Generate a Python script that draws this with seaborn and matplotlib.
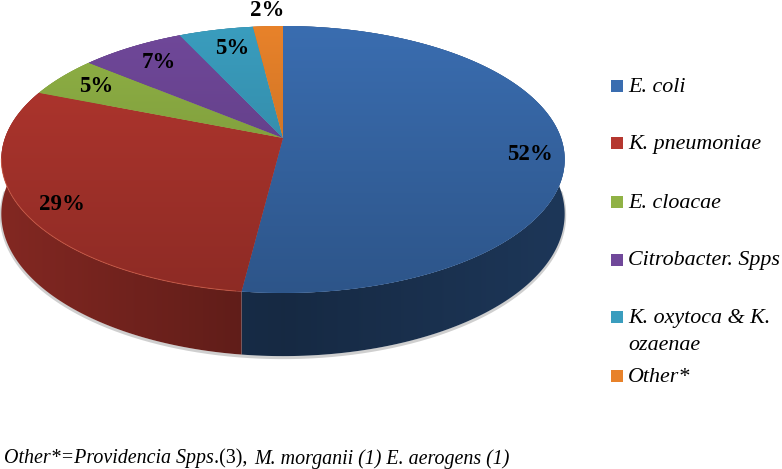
import numpy as np
import matplotlib
matplotlib.use("Agg")
import matplotlib.pyplot as plt
import seaborn as sns
from matplotlib.colors import LinearSegmentedColormap
from matplotlib.patches import Polygon

# values
species = ["E. coli", "K. pneumoniae", "E. cloacae", "Citrobacter. Spps", "K. oxytoca & K.\nozaenae", "Other*"]
percent = [52, 29, 5, 7, 5, 2]
hex_colors = ["#3A6DB0", "#B5372F", "#90B245", "#70489A", "#3A9DBE", "#E8822A"]

# layout, in pixels of the 782x469 picture
apex_x, apex_y = 283, 138
rad_x, rad_y = 278, 130
persp = 0.161
depth = 53
pct_xy = [(530, 155), (62, 204), (96, 87), (159, 62), (232, 48), (267, 10)]
legend_y = [87, 144, 203, 261, 318, 377]
wall_front = [0.38, 0.50, 0.5, 0.5, 0.5, 0.5]
wall_side = [0.50, 0.72, 0.7, 0.7, 0.7, 0.7]

sns.set_theme(style="white")
plt.rcParams["font.family"] = ["Liberation Serif", "DejaVu Serif"]
palette = sns.color_palette(hex_colors)


def rim(theta):
    # theta runs clockwise from the far point of the disc, perspective squeezes the far half
    s, c = np.sin(theta), np.cos(theta)
    w = 1 + persp * c
    return apex_x + rad_x * s / w, apex_y - rad_y * c / w, depth / w


fig = plt.figure(figsize=(7.82, 4.69), dpi=100)
ax = fig.add_axes([0, 0, 1, 1])

edges = np.radians(np.concatenate([[0], np.cumsum(percent)]) * 3.6)

# soft shadow below the wall
tt = np.linspace(np.pi / 2, 3 * np.pi / 2, 200)
xs, ys, ds = rim(tt)
ax.plot(xs, ys + ds + 1.5, color="#777777", lw=2.2, alpha=0.35, zorder=1)

# side wall, darker towards the front
across = np.abs(np.arange(782) + 0.5 - apex_x).reshape(1, -1) / rad_x
for i, col in enumerate(palette):
    tt = np.linspace(edges[i], edges[i + 1], max(int(percent[i] * 4), 3) + 1)
    xs, ys, ds = rim(tt)
    pts = np.column_stack([np.r_[xs, xs[::-1]], np.r_[ys, (ys + ds)[::-1]]])
    poly = Polygon(pts, closed=True, facecolor="none", edgecolor="none", zorder=2)
    ax.add_patch(poly)
    cmap = LinearSegmentedColormap.from_list("w", [tuple(np.array(col) * wall_front[i]), tuple(np.array(col) * wall_side[i])])
    im = ax.imshow(across, cmap=cmap, vmin=0, vmax=1, extent=(0, 782, 469, 0), aspect="auto", zorder=2)
    im.set_clip_path(poly)

# top of the disc, each slice with a vertical gradient
grad = np.linspace(0, 1, 256).reshape(-1, 1)
for i, col in enumerate(palette):
    tt = np.linspace(edges[i], edges[i + 1], max(int(percent[i] * 4), 3) + 1)
    xs, ys, ds = rim(tt)
    pts = np.column_stack([np.r_[apex_x, xs], np.r_[apex_y, ys]])
    poly = Polygon(pts, closed=True, facecolor=col, edgecolor="none", zorder=3)
    ax.add_patch(poly)
    cmap = LinearSegmentedColormap.from_list("s", [col, tuple(np.array(col) * 0.78)])
    im = ax.imshow(grad, cmap=cmap, extent=(0, 600, 293, 26), aspect="auto", zorder=3.1)
    im.set_clip_path(poly)

# thin bright edge at the front of the disc
tt = np.linspace(np.pi * 0.62, np.pi * 1.45, 120)
xs, ys, ds = rim(tt)
ax.plot(xs[tt > edges[1]], ys[tt > edges[1]], color="#D0604A", lw=0.7, alpha=0.7, zorder=4)

for p, (x, y) in zip(percent, pct_xy):
    ax.text(x, y, f"{p}%", fontsize=16.5, fontweight="bold", color="black", ha="center", va="center", zorder=5)

# legend by hand, the entries are not evenly spaced
for name, col, y in zip(species, palette, legend_y):
    ax.scatter([617], [y - 1], marker="s", s=70, color=[col], linewidths=0, zorder=5)
    first = name.split("\n")
    ax.text(628, y, first[0], fontsize=15.8, style="italic", color="black", va="center", ha="left")
    if len(first) > 1:
        ax.text(628, y + 27, first[1], fontsize=15.8, style="italic", color="black", va="center", ha="left")

# footnote mixes italic and upright runs
x_now = 4
renderer = fig.canvas.get_renderer()
for part, st in [("Other*=Providencia Spps", "italic"), (".(3), ", "normal"), ("M. morganii (1) E. aerogens (1)", "italic")]:
    t = ax.text(x_now, 459, part, fontsize=14.4, style=st, color="black", va="center", ha="left")
    ax.set_xlim(0, 782)
    ax.set_ylim(469, 0)
    width = t.get_window_extent(renderer).width
    if part.endswith(" "):
        width += 2
    x_now += width

ax.set_xlim(0, 782)
ax.set_ylim(469, 0)
ax.axis("off")
fig.savefig("out.png", dpi=100)
